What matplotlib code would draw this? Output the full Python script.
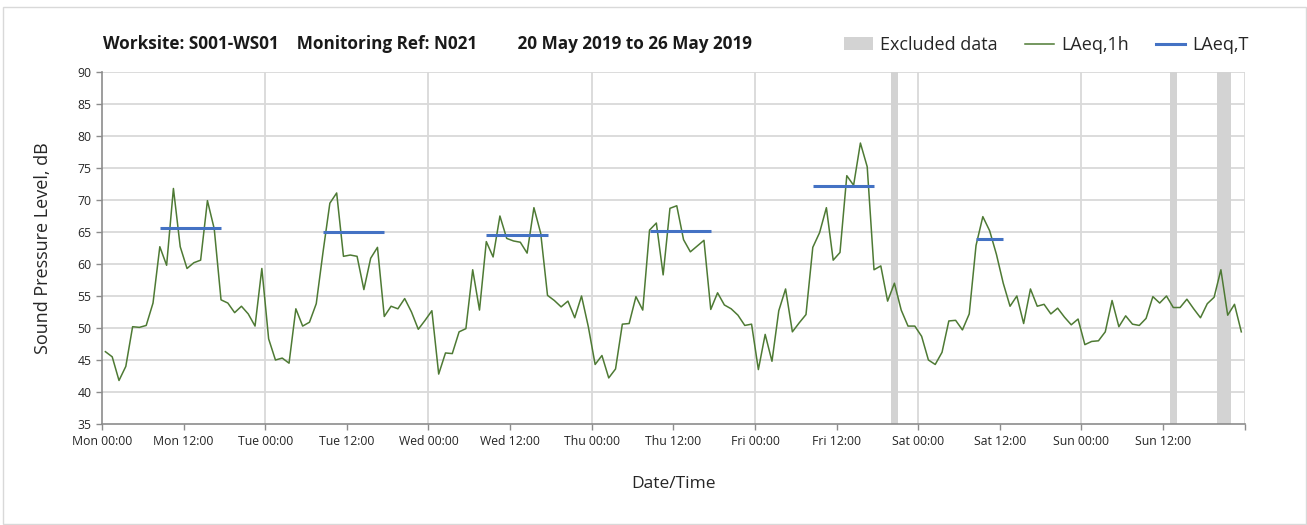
#!/usr/bin/env python3
import numpy as np
import matplotlib.pyplot as plt
from matplotlib.patches import Patch, Rectangle
from matplotlib.lines import Line2D

plt.switch_backend('agg')
plt.rcParams['font.family'] = ['Open Sans', 'DejaVu Sans']

# hourly LAeq,1h values, Mon 00:00 .. Sun 23:00
laeq_1h = [
    46.3, 45.5, 41.8, 44.0, 50.2, 50.1, 50.4, 53.9, 62.7, 59.8, 71.8, 62.7,
    59.3, 60.2, 60.6, 69.9, 65.5, 54.4, 53.9, 52.4, 53.4, 52.2, 50.3, 59.3,
    48.3, 45.0, 45.3, 44.5, 53.0, 50.3, 50.9, 53.8, 61.9, 69.5, 71.1, 61.2,
    61.4, 61.2, 56.0, 60.9, 62.6, 51.8, 53.4, 53.0, 54.6, 52.5, 49.8, 51.2,
    52.7, 42.8, 46.1, 46.0, 49.4, 49.9, 59.1, 52.8, 63.5, 61.1, 67.5, 64.0,
    63.6, 63.4, 61.7, 68.8, 64.8, 55.1, 54.3, 53.3, 54.2, 51.6, 55.0, 50.2,
    44.3, 45.7, 42.2, 43.6, 50.6, 50.7, 54.9, 52.8, 65.3, 66.4, 58.3, 68.7,
    69.1, 63.8, 61.9, 62.8, 63.7, 52.9, 55.5, 53.6, 53.0, 52.0, 50.4, 50.6,
    43.5, 49.0, 44.8, 52.7, 56.1, 49.4, 50.8, 52.1, 62.6, 64.9, 68.8, 60.6,
    61.8, 73.8, 72.3, 78.9, 75.2, 59.1, 59.7, 54.2, 57.0, 52.8, 50.3, 50.3,
    48.7, 45.0, 44.3, 46.2, 51.1, 51.2, 49.7, 52.2, 62.9, 67.4, 65.2, 61.5,
    57.0, 53.4, 55.0, 50.7, 56.1, 53.4, 53.7, 52.2, 53.1, 51.7, 50.5, 51.4,
    47.4, 47.9, 48.0, 49.4, 54.3, 50.2, 51.9, 50.6, 50.4, 51.5, 54.9, 53.9,
    55.0, 53.2, 53.2, 54.5, 53.0, 51.6, 53.8, 54.8, 59.1, 52.0, 53.7, 49.4,
]

# daytime LAeq,T per day: (first hour, last hour, level)
laeq_t_start = [8, 32, 56, 80, 104, 128]
laeq_t_end = [17, 41, 65, 89, 113, 132]
laeq_t_level = [65.6, 65.0, 64.6, 65.1, 72.2, 63.9]

excluded_hours = [116, 157, 164, 165]

tick_labels = ['Mon 00:00', 'Mon 12:00', 'Tue 00:00', 'Tue 12:00',
               'Wed 00:00', 'Wed 12:00', 'Thu 00:00', 'Thu 12:00',
               'Fri 00:00', 'Fri 12:00', 'Sat 00:00', 'Sat 12:00',
               'Sun 00:00', 'Sun 12:00', '']

title = ('Worksite: S001-WS01    Monitoring Ref: N021         '
         '20 May 2019 to 26 May 2019')

green = '#4e7a34'
blue = '#4472c4'
band = '#d3d3d3'
grid = '#d9d9d9'
axis_col = '#8c8c8c'

fig = plt.figure(figsize=(13.07, 5.25), dpi=100)
ax = fig.add_axes([102 / 1307, 1 - 424 / 525, 1142.7 / 1307, 352 / 525])

hours = np.arange(len(laeq_1h)) + 0.5

for h in excluded_hours:
    ax.axvspan(h, h + 1, color=band, lw=0, zorder=1)

for y in range(40, 91, 5):
    ax.axhline(y, color=grid, lw=1.3, zorder=0)
for d in range(24, 169, 24):
    ax.axvline(d, color=grid, lw=1.3, zorder=0)

ax.plot(hours, laeq_1h, color=green, lw=1.1, zorder=3)
for s, e, lv in zip(laeq_t_start, laeq_t_end, laeq_t_level):
    ax.plot([s + 0.5, e + 0.5], [lv, lv], color=blue, lw=2.2,
            solid_capstyle='butt', zorder=4)

ax.set_xlim(0, 168)
ax.set_ylim(35, 90)
ax.set_yticks(range(35, 91, 5))
ax.set_xticks(range(0, 169, 12))
ax.set_xticklabels(tick_labels)
ax.tick_params(axis='both', direction='out', color=axis_col, labelsize=8.8,
               labelcolor='#262626', length=4, width=1)
ax.tick_params(axis='x', pad=4)
for side in ['top', 'right']:
    ax.spines[side].set_visible(False)
for side in ['left', 'bottom']:
    ax.spines[side].set_color(axis_col)
    ax.spines[side].set_linewidth(1.2)

ax.set_ylabel('Sound Pressure Level, dB', fontsize=13, color='#262626',
              labelpad=18)
ax.set_xlabel('Date/Time', fontsize=12.5, color='#262626', labelpad=20)

fig.text(103 / 1307, 1 - 44 / 525, title, fontsize=12.3, fontweight='bold',
         va='center', ha='left', color='#1a1a1a')

handles = [Patch(color=band, lw=0),
           Line2D([0], [0], color=green, lw=1.1),
           Line2D([0], [0], color=blue, lw=2.2)]
labels = ['Excluded data', 'LAeq,1h', 'LAeq,T']
fig.legend(handles, labels, loc='center left', ncol=3, frameon=False,
           bbox_to_anchor=(828 / 1307, 1 - 45 / 525), fontsize=13,
           handlelength=1.6, handletextpad=0.4, columnspacing=1.5,
           labelcolor='#262626')

fig.patches.append(Rectangle((3 / 1307, 1 / 525), 1303 / 1307, 517 / 525,
                             transform=fig.transFigure, fill=False,
                             edgecolor=grid, lw=1))

fig.savefig('out.png', dpi=100)
